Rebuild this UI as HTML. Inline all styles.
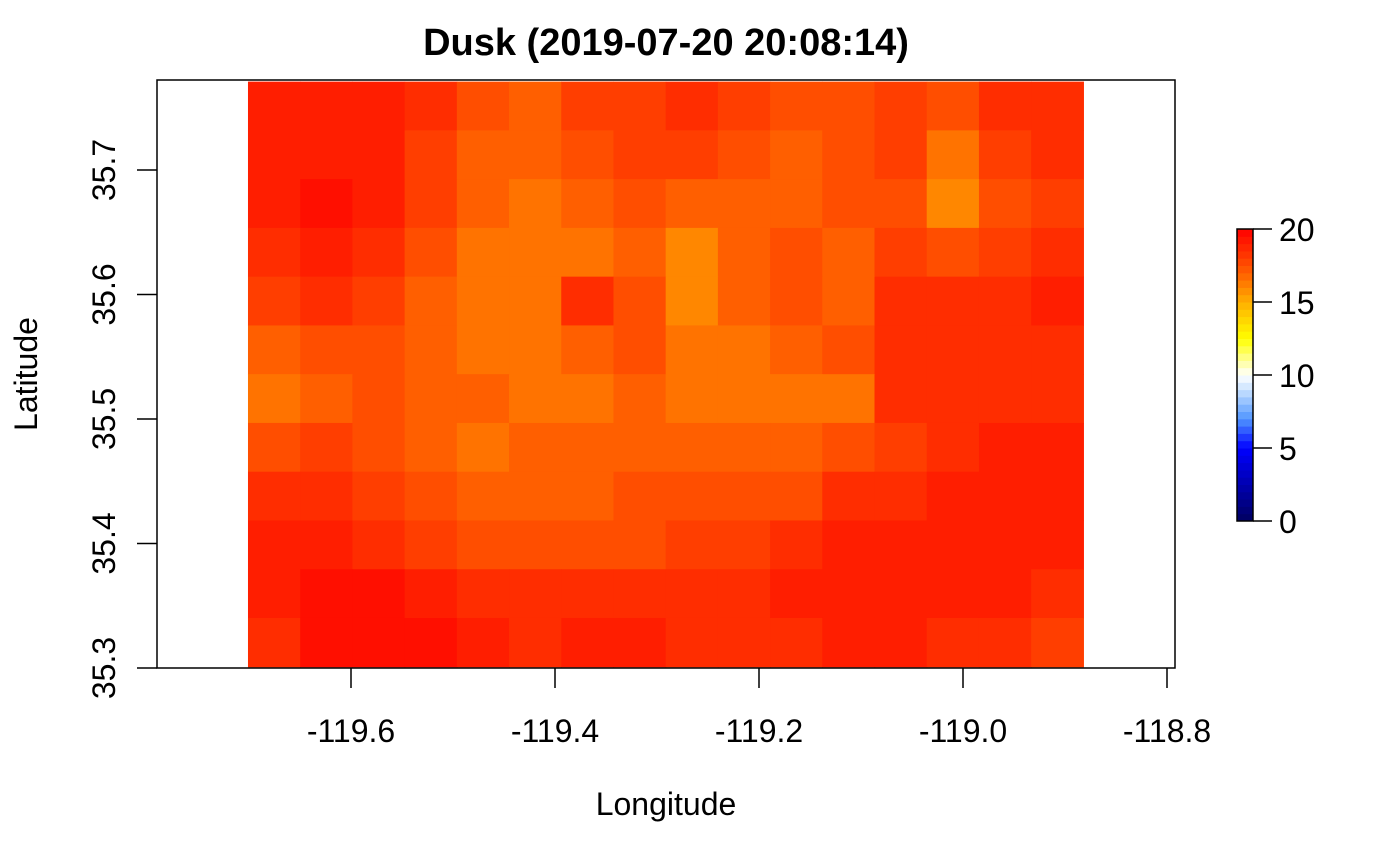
<!DOCTYPE html>
<html><head><meta charset="utf-8"><style>
body{margin:0;background:#fff;}
svg{display:block;font-family:"Liberation Sans",Arial,sans-serif;}
</style></head><body>
<svg id="chart" width="1400" height="865" viewBox="0 0 1400 865" xmlns="http://www.w3.org/2000/svg">
<text x="666" y="55" style="font-size:38px;font-weight:bold" text-anchor="middle">Dusk (2019-07-20 20:08:14)</text>
<g id="heat"></g>
<g id="legend"></g>
<rect x="157" y="80" width="1018" height="588" fill="none" stroke="#000" stroke-width="1.5"/>
<g id="xaxis"></g>
<g id="yaxis"></g>
<text x="666" y="815" style="font-size:32px" text-anchor="middle">Longitude</text>
<text transform="translate(37,374) rotate(-90)" style="font-size:32px" text-anchor="middle">Latitude</text>
</svg>
<script>
const xTicks=[-119.6,-119.4,-119.2,-119.0,-118.8];
const xTickLabels=["-119.6","-119.4","-119.2","-119.0","-118.8"];
const yTicks=[35.3,35.4,35.5,35.6,35.7];
const yTickLabels=["35.3","35.4","35.5","35.6","35.7"];
const legendTicks=[0,5,10,15,20];
const lonExtent=[-119.701,-118.882];
const latExtent=[35.301,35.771];
const heatValues=[
[19,19,19,18.5,17.5,17,18,18,18.5,18,17.5,17.5,18,17.5,18.5,18.5],
[19,19,19,18,17,17,17.5,18,18,17.5,17,17.5,18,16.5,18,18.5],
[19,19.5,19,18,17,16.5,17,17.5,17,17,17,17.5,17.5,16,17.5,18],
[18.5,19,18.5,17.5,16.5,16.5,16.5,17,16,17,17.5,17,18,17.5,18,18.5],
[18,18.5,18,17,16.5,16.5,18.5,17.5,16,17,17.5,17,18.5,18.5,18.5,19],
[17,17.5,17.5,17,16.5,16.5,17,17.5,16.5,16.5,17,17.5,18.5,18.5,18.5,18.5],
[16.5,17,17.5,17,17,16.5,16.5,17,16.5,16.5,16.5,16.5,18.5,18.5,18.5,18.5],
[17.5,18,17.5,17,16.5,17,17,17,17,17,17,17.5,18,18.5,19,19],
[18.5,18.5,18,17.5,17,17,17,17.5,17.5,17.5,17.5,18.5,18.5,19,19,19],
[19,19,18.5,18,17.5,17.5,17.5,17.5,18,18,18.5,19,19,19,19,19],
[19,19.5,19.5,19,18.5,18.5,18.5,18.5,18.5,18.5,19,19,19,19,19,18.5],
[18.5,19.5,19.5,19.5,19,18.5,19,19,18.5,18.5,18.5,19,19,18.5,18.5,18]
];
const NS="http://www.w3.org/2000/svg";
const xScale=v=>351+(v+119.6)*1020;
const yScale=v=>668-(v-35.3)*1245;
const lScale=v=>521-v*14.6;
const stops=[[0,[0,0,96]],[5,[0,0,255]],[7,[80,150,255]],[9,[200,225,255]],[10,[255,255,255]],[12.5,[255,255,0]],[15,[255,175,0]],[17,[255,95,0]],[18.5,[255,45,0]],[20,[255,0,0]]];
function col(v){for(let i=1;i<stops.length;i++){if(v<=stops[i][0]){const a=stops[i-1],b=stops[i],t=(v-a[0])/(b[0]-a[0]);return "rgb("+a[1].map((c,k)=>Math.round(c+(b[1][k]-c)*t)).join(",")+")";}}return "rgb(255,0,0)";}
function mk(tag,attrs,parent){const e=document.createElementNS(NS,tag);for(const k in attrs)e.setAttribute(k,attrs[k]);parent.appendChild(e);return e;}
const heat=document.getElementById('heat');
const nr=heatValues.length,nc=heatValues[0].length;
const x0=xScale(lonExtent[0]),x1=xScale(lonExtent[1]),y0=yScale(latExtent[1]),y1=yScale(latExtent[0]);
const cw=(x1-x0)/nc,ch=(y1-y0)/nr;
heatValues.forEach((row,r)=>row.forEach((v,c)=>{
 const e=mk('rect',{x:x0+c*cw,y:y0+r*ch,width:cw+0.6,height:ch+0.6,fill:col(v)},heat);
 
 
}));
const xa=document.getElementById('xaxis');
xTicks.forEach((t,i)=>{const x=xScale(t);
 mk('line',{x1:x,x2:x,y1:668,y2:688,stroke:'#000','stroke-width':1.5},xa);
 const tx=mk('text',{x:x,y:742,style:'font-size:32px','text-anchor':'middle'},xa);tx.textContent=xTickLabels[i];
 
 
});
const ya=document.getElementById('yaxis');
yTicks.forEach((t,i)=>{const y=yScale(t);
 mk('line',{x1:137,x2:157,y1:y,y2:y,stroke:'#000','stroke-width':1.5},ya);
 const tx=mk('text',{transform:`translate(115,${y}) rotate(-90)`,style:'font-size:32px','text-anchor':'middle'},ya);tx.textContent=yTickLabels[i];
 
 
});
const lg=document.getElementById('legend');
for(let v=0;v<20;v+=0.5){
 const e=mk('rect',{x:1237,y:lScale(v+0.5),width:16,height:14.6*0.5+0.5,fill:col(v+0.25)},lg);
 
 
}
mk('rect',{x:1237,y:lScale(20),width:16,height:lScale(0)-lScale(20),fill:'none',stroke:'#000','stroke-width':1.5},lg);
legendTicks.forEach(t=>{const y=lScale(t);
 mk('line',{x1:1253,x2:1272,y1:y,y2:y,stroke:'#000','stroke-width':1.5},lg);
 const tx=mk('text',{x:1279,y:y+12,style:'font-size:32px'},lg);tx.textContent=String(t);
 
 
});
</script>
</body></html>
